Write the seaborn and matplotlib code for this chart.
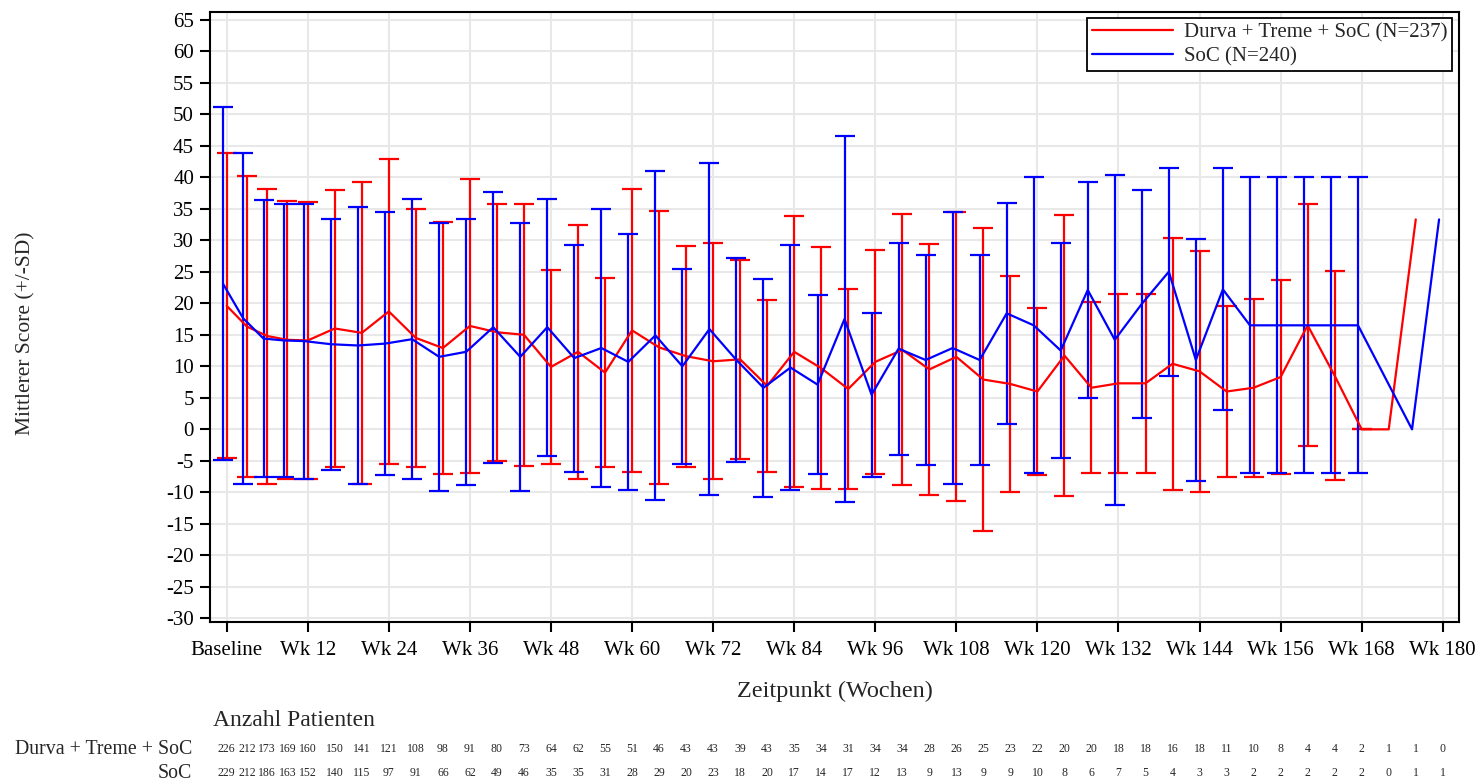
import numpy as np
import pandas as pd
import matplotlib
matplotlib.use("Agg")
import matplotlib.pyplot as plt
import matplotlib.transforms as mtransforms
import seaborn as sns

# ---- data -------------------------------------------------------------
weeks = [0, 3, 6, 9, 12, 16, 20, 24, 28, 32, 36, 40, 44, 48, 52, 56, 60, 64,
         68, 72, 76, 80, 84, 88, 92, 96, 100, 104, 108, 112, 116, 120, 124,
         128, 132, 136, 140, 144, 148, 152, 156, 160, 164, 168, 172, 176, 180]

tick_weeks = [0, 12, 24, 36, 48, 60, 72, 84, 96, 108, 120, 132, 144, 156, 168, 180]
tick_labels = ["Baseline", "Wk 12", "Wk 24", "Wk 36", "Wk 48", "Wk 60", "Wk 72",
               "Wk 84", "Wk 96", "Wk 108", "Wk 120", "Wk 132", "Wk 144",
               "Wk 156", "Wk 168", "Wk 180"]

arm_names = ["Durva + Treme + SoC", "SoC"]
legend_labels = ["Durva + Treme + SoC (N=237)", "SoC (N=240)"]

nan = np.nan
durva_mean = [19.6, 16.3, 14.8, 14.2, 14.1, 16.0, 15.3, 18.7, 14.5, 12.9,
              16.4, 15.4, 15.0, 9.9, 12.3, 9.0, 15.7, 13.0, 11.6, 10.8,
              11.1, 6.9, 12.3, 9.7, 6.4, 10.7, 12.6, 9.5, 11.5, 7.9,
              7.2, 6.0, 11.7, 6.6, 7.3, 7.3, 10.4, 9.2, 6.0, 6.6,
              8.3, 16.5, 8.5, 0.0, 0.0, 33.3, nan]
durva_sd = [24.2, 23.9, 23.4, 22.0, 21.9, 22.0, 24.0, 24.2, 20.5, 20.0,
            23.3, 20.4, 20.8, 15.4, 20.1, 15.0, 22.4, 21.6, 17.5, 18.7,
            15.8, 13.6, 21.5, 19.2, 15.8, 17.8, 21.5, 19.9, 22.9, 24.1,
            17.2, 13.2, 22.3, 13.6, 14.2, 14.2, 20.0, 19.1, 13.5, 14.1,
            15.4, 19.2, 16.6, 0.0, nan, nan, nan]

soc_mean = [23.1, 17.6, 14.4, 14.1, 14.0, 13.5, 13.3, 13.6, 14.3, 11.5,
            12.3, 16.2, 11.5, 16.2, 11.3, 12.9, 10.7, 14.9, 10.0, 15.9,
            11.0, 6.6, 9.8, 7.1, 17.5, 5.5, 12.8, 11.0, 12.9, 11.0,
            18.4, 16.5, 12.5, 22.1, 14.2, 19.9, 25.0, 11.0, 22.2, 16.5,
            16.5, 16.5, 16.5, 16.5, nan, 0.0, 33.3]
soc_sd = [28.0, 26.2, 22.0, 21.6, 21.8, 19.9, 21.9, 20.8, 22.2, 21.3,
          21.1, 21.5, 21.3, 20.4, 18.0, 22.1, 20.3, 26.1, 15.5, 26.3,
          16.2, 17.3, 19.5, 14.2, 29.1, 13.0, 16.8, 16.6, 21.6, 16.6,
          17.5, 23.5, 17.1, 17.2, 26.2, 18.1, 16.5, 19.2, 19.2, 23.5,
          23.5, 23.5, 23.5, 23.5, nan, nan, nan]

durva_n = [226, 212, 173, 169, 160, 150, 141, 121, 108, 98, 91, 80, 73, 64, 62,
           55, 51, 46, 43, 43, 39, 43, 35, 34, 31, 34, 34, 28, 26, 25, 23, 22,
           20, 20, 18, 18, 16, 18, 11, 10, 8, 4, 4, 2, 1, 1, 0]
soc_n = [229, 212, 186, 163, 152, 140, 115, 97, 91, 66, 62, 49, 46, 35, 35,
         31, 28, 29, 20, 23, 18, 20, 17, 14, 17, 12, 13, 9, 13, 9, 9, 10,
         8, 6, 7, 5, 4, 3, 3, 2, 2, 2, 2, 2, 0, 1, 1]

# ---- styling ----------------------------------------------------------
colors = ["#ff0000", "#0000ff"]
x_shift = [0.0, -0.55]          # small dodge so the two arms do not overlap

sns.set_theme(style="white")
plt.rcParams["font.family"] = ["Liberation Serif", "DejaVu Serif"]
plt.rcParams["axes.unicode_minus"] = False

fig = plt.figure(figsize=(14.76, 7.82), dpi=100)
W, H = 1476, 782
L, R, T, B = 210, 1459, 12, 622
ax = fig.add_axes([L / W, 1 - B / H, (R - L) / W, (B - T) / H])

frames = []
for name, lab, shift, m, s in zip(arm_names, legend_labels, x_shift,
                                  [durva_mean, soc_mean], [durva_sd, soc_sd]):
    frames.append(pd.DataFrame({"week": weeks, "pos": np.array(weeks) + shift,
                                "mean": m, "sd": s, "arm": lab}))
df = pd.concat(frames, ignore_index=True)
df_line = df.dropna(subset=["mean"])

sns.lineplot(data=df_line, x="pos", y="mean", hue="arm",
             hue_order=legend_labels, palette=colors, estimator=None,
             sort=True, linewidth=1.6, ax=ax, zorder=3)

for lab, col in zip(legend_labels, colors):
    sub = df[(df["arm"] == lab) & df["sd"].notna()]
    ax.errorbar(sub["pos"], sub["mean"], yerr=sub["sd"], fmt="none",
                ecolor=col, elinewidth=1.6, capsize=7, capthick=1.6, zorder=2)

ax.set_xlim(-2.47, 182.4)
ax.set_ylim(-30.56, 66.2)
ax.set_xticks(tick_weeks)
ax.set_xticklabels(tick_labels)
ax.set_yticks(np.arange(-30, 66, 5))
ax.set_xlabel("")
ax.set_ylabel("")

ax.grid(True, color="#e8e8e8", linewidth=1.5, zorder=0)
ax.set_axisbelow(True)
for sp in ax.spines.values():
    sp.set_visible(True)
    sp.set_color("black")
    sp.set_linewidth(1.5)
ax.tick_params(axis="both", which="major", direction="out", length=7.5,
               width=1.5, color="black", labelsize=15, labelcolor="black",
               bottom=True, left=True)
ax.tick_params(axis="x", pad=6)
ax.tick_params(axis="y", pad=4)

handles, labels = ax.get_legend_handles_labels()
leg = ax.legend(handles, labels, loc="upper right", bbox_to_anchor=(0.9945, 0.99),
                fontsize=15, frameon=True, fancybox=False, framealpha=1,
                edgecolor="black", handlelength=3.9, handletextpad=0.53,
                borderpad=0.22, labelspacing=0.22, borderaxespad=0)
leg.get_frame().set_linewidth(1.3)
for h in leg.get_lines():
    h.set_linewidth(1.6)

# axis titles
fig.text((L + R) / 2 / W, 1 - 691 / H, "Zeitpunkt (Wochen)", ha="center",
         va="center", fontsize=17.5)
fig.text(26 / W, 1 - 333 / H, "Mittlerer Score (+/-SD)", ha="center",
         va="center", rotation=90, fontsize=15.5)

# patient counts under the axis
fig.text(213 / W, 1 - 721 / H, "Anzahl Patienten", ha="left", va="center",
         fontsize=17)
row_y = [749, 773]
trans = mtransforms.blended_transform_factory(ax.transData, fig.transFigure)
for name, yy, counts in zip(arm_names, row_y, [durva_n, soc_n]):
    fig.text(192 / W, 1 - yy / H, name, ha="right", va="center", fontsize=14.3)
    for wk, c in zip(weeks, counts):
        ax.text(wk, 1 - yy / H, str(c), transform=trans, ha="center",
                va="center", fontsize=8.5, clip_on=False)

fig.savefig("out.png", dpi=100)
